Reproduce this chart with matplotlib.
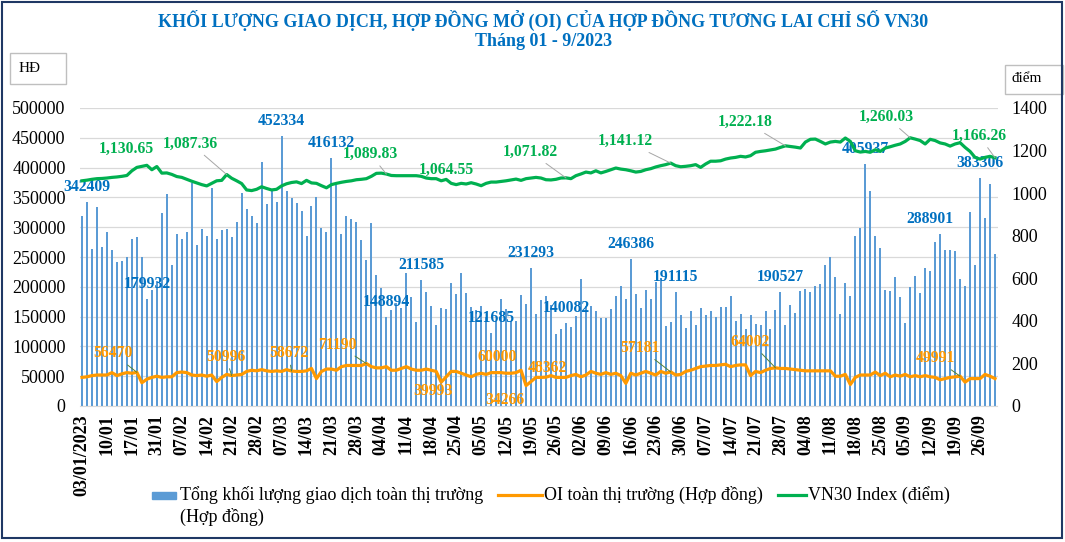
import numpy as np
import matplotlib
matplotlib.use('Agg')
import matplotlib.pyplot as plt
from matplotlib.patches import Rectangle
from matplotlib.lines import Line2D

plt.rcParams['font.family'] = ['Liberation Serif', 'DejaVu Serif']

# every 5th trading session gets a label
tick_labels = ['03/01/2023', '10/01', '17/01', '31/01', '07/02', '14/02', '21/02', '28/02',
               '07/03', '14/03', '21/03', '28/03', '04/04', '11/04', '18/04', '25/04',
               '05/05', '12/05', '19/05', '26/05', '02/06', '09/06', '16/06', '23/06',
               '30/06', '07/07', '14/07', '21/07', '28/07', '04/08', '11/08', '18/08',
               '25/08', '05/09', '12/09', '19/09', '26/09']

# Tong khoi luong giao dich (hop dong)
volume = [319000, 342409, 264000, 334000, 267000, 292000, 262000, 242000, 244000, 250000,
          281000, 284000, 250000, 179932, 195000, 210000, 323000, 355000, 237000, 288000,
          281000, 292000, 374000, 270000, 297000, 286000, 366000, 281000, 296000, 297000,
          284000, 309000, 358000, 331000, 318000, 307000, 409000, 339000, 361000, 343000,
          452334, 361000, 349000, 341000, 328000, 286000, 336000, 351000, 299000, 292000,
          416132, 370000, 289000, 319000, 314000, 309000, 279000, 245000, 307000, 220000,
          198000, 148894, 161000, 173000, 165000, 223000, 183000, 141000, 211585, 192000,
          168000, 136000, 165000, 163000, 207000, 188000, 223000, 190000, 166000, 161000,
          168000, 150000, 121685, 142000, 180000, 163000, 143000, 143000, 186000, 171000,
          231293, 155000, 178000, 185000, 170000, 120000, 129000, 140082, 133000, 151000,
          213000, 168000, 168000, 160000, 148000, 148000, 163000, 185000, 202000, 180000,
          246386, 188000, 165000, 195000, 180000, 208000, 215000, 134000, 141000, 191115,
          153000, 131000, 160000, 136000, 165000, 153000, 160000, 150000, 166000, 166000,
          185000, 143000, 155000, 129000, 153000, 138000, 136000, 160000, 129000, 161000,
          190527, 136000, 170000, 156000, 193000, 197000, 192000, 202000, 205000, 237000,
          250000, 217000, 155000, 207000, 185000, 286000, 299000, 405937, 360000, 286000,
          265000, 195000, 193000, 217000, 183000, 139000, 200000, 218000, 190000, 232000,
          227000, 276000, 288901, 262000, 262000, 260000, 213000, 202000, 326000, 237000,
          383306, 316000, 373000, 255000]

# OI toan thi truong (hop dong)
oi = [48000, 49000, 51000, 52000, 52000, 52000, 56000, 51000, 54000, 56000,
      55000, 56470, 39000, 45000, 48000, 50000, 48000, 49000, 49000, 56000,
      57000, 56000, 52000, 51000, 52000, 50000, 52000, 41000, 48000, 53000,
      50996, 52000, 53000, 58000, 60000, 59000, 61000, 59000, 58000, 59000,
      58000, 61000, 58672, 58000, 58000, 59000, 63000, 46000, 58000, 62000,
      62000, 60000, 66000, 68000, 68000, 68000, 68000, 71190, 66000, 64000,
      64000, 66000, 60000, 60000, 63000, 66000, 62000, 60000, 60000, 62000,
      60000, 58000, 39993, 49000, 58000, 58000, 55000, 52000, 49000, 53000,
      55000, 53000, 56000, 56000, 56000, 55000, 55000, 56000, 60000, 34266,
      41000, 48000, 48000, 48362, 51000, 48000, 48000, 48000, 51000, 53000,
      49000, 52000, 58000, 55000, 53000, 56000, 53000, 55000, 51000, 38000,
      55000, 52000, 55000, 58000, 55000, 52000, 58000, 55000, 57181, 52000,
      53000, 58000, 60000, 63000, 66000, 67000, 68000, 68000, 69000, 70000,
      66000, 68000, 69000, 69000, 51000, 58000, 56000, 60000, 63000, 64002,
      63000, 63000, 62000, 61000, 60000, 59000, 59000, 59000, 59000, 59000,
      59000, 50000, 50000, 53000, 36000, 48000, 52000, 52000, 52000, 57000,
      51000, 55000, 49000, 52000, 50000, 53000, 49000, 51000, 49000, 51000,
      49000, 48000, 44000, 46000, 48000, 49000, 49991, 40000, 46000, 46000,
      46000, 53000, 50000, 46000]

# VN30 Index (diem)
vn30 = [1058, 1061, 1065, 1068, 1069, 1071, 1074, 1076, 1079, 1083,
        1105, 1121, 1126, 1130.65, 1110, 1125, 1094, 1095, 1088, 1078,
        1074, 1065, 1056, 1048, 1040, 1034, 1046, 1058, 1060, 1087.36,
        1070, 1058, 1045, 1015, 1012, 1018, 1030, 1022, 1015, 1018,
        1034, 1044, 1050, 1053, 1045, 1060, 1048, 1046, 1035, 1025,
        1040, 1046, 1051, 1055, 1058, 1063, 1065, 1068, 1079, 1093,
        1094, 1089.83, 1083, 1082, 1082, 1082, 1082, 1082, 1079, 1071,
        1068, 1068, 1058, 1064.55, 1046, 1040, 1046, 1043, 1049, 1043,
        1035, 1046, 1052, 1052, 1055, 1058, 1062, 1066, 1060, 1068,
        1071, 1074, 1071, 1063, 1062, 1065, 1071, 1071.82, 1068, 1082,
        1090, 1099, 1095, 1105, 1095, 1102, 1110, 1118, 1113, 1110,
        1105, 1099, 1102, 1110, 1115, 1123, 1129, 1134, 1141.12, 1129,
        1124, 1126, 1129, 1134, 1121, 1137, 1150, 1150, 1152, 1160,
        1165, 1168, 1173, 1170, 1176, 1192, 1196, 1199, 1203, 1207,
        1215, 1222.18, 1219, 1216, 1212, 1240, 1253, 1254, 1243, 1231,
        1240, 1243, 1240, 1259, 1243, 1199, 1193, 1196, 1192, 1204,
        1196, 1212, 1218, 1225, 1231, 1243, 1260.03, 1254, 1247, 1231,
        1253, 1247, 1236, 1231, 1221, 1231, 1237, 1215, 1196, 1168,
        1160, 1168, 1173, 1166.26]

# sessions that carry a data label
vol_labelled = [1, 13, 40, 50, 61, 68, 82, 90, 97, 110, 119, 140, 157, 172, 180]
oi_labelled = [11, 30, 42, 57, 72, 88, 89, 93, 118, 139, 176]
vn30_labelled = [13, 29, 61, 73, 97, 118, 141, 166, 183]

BLUE = '#5B9BD5'
BLUE_TXT = '#0070C0'
ORANGE = '#FF9900'
GREEN = '#00B050'
W, H = 1065, 542


def fx(px):
    return px / W


def fy(py):
    return (H - py) / H


fig = plt.figure(figsize=(W / 100, H / 100), dpi=100)
ax = fig.add_axes([fx(79.5), fy(406), 918 / W, 298 / H])

x = np.arange(len(volume))
ax.bar(x, volume, width=0.4, color=BLUE, zorder=2)
ax.plot(x, oi, color=ORANGE, lw=2.3, zorder=3, solid_joinstyle='round')
ax.set_xlim(-0.5, len(volume) - 0.5)
ax.set_ylim(0, 500000)
ax.set_yticks(range(0, 500001, 50000))
ax.yaxis.grid(True, color='#D9D9D9', lw=0.9, zorder=0)
ax.set_axisbelow(True)
ax.set_xticks(range(0, len(volume), 5))
ax.set_xticklabels(tick_labels, rotation=90, fontsize=13, fontweight='bold')
ax.tick_params(axis='x', length=0, pad=6)
ax.tick_params(axis='y', length=0, pad=10, labelsize=13)
for s in ['top', 'left', 'right']:
    ax.spines[s].set_visible(False)
ax.spines['bottom'].set_color('#D9D9D9')

ax2 = ax.twinx()
ax2.plot(x, vn30, color=GREEN, lw=2.3, solid_joinstyle='round')
ax2.set_ylim(0, 1400)
ax2.set_yticks(range(0, 1401, 200))
ax2.tick_params(axis='y', length=0, pad=10, labelsize=13)
for s in ax2.spines.values():
    s.set_visible(False)

lab = dict(fontsize=11.3, fontweight='bold', ha='center', va='center',
           textcoords='offset pixels')
lead = dict(arrowstyle='-', color='#A6A6A6', lw=0.7, shrinkA=1, shrinkB=0)
lead_g = dict(arrowstyle='-', color='#548235', lw=0.7, shrinkA=1, shrinkB=0)

vol_shift = {172: -10}
for i in vol_labelled:
    ax.annotate(str(volume[i]), (i, volume[i]), xytext=(vol_shift.get(i, 0), 15),
                color=BLUE_TXT, **lab)

oi_off = {11: (-24, 19), 30: (-6, 19), 42: (-3, 18), 57: (-29, 19), 72: (-8, -9),
          88: (-24, 13), 89: (-21, -14), 93: (1, 9), 118: (-31, 24), 139: (-25, 26),
          176: (-25, 18)}
oi_lead = [11, 30, 42, 57, 118, 139, 176]
for i in oi_labelled:
    ax.annotate(str(oi[i]), (i, oi[i]), xytext=oi_off[i], color=ORANGE,
                arrowprops=lead_g if i in oi_lead else None, zorder=4, **lab)

vn_off = {13: (-20, 16), 29: (-36, 31), 61: (-16, 20), 73: (0, 10), 97: (-36, 26),
          118: (-45, 22), 141: (-40, 24), 166: (-24, 21), 183: (-16, 22)}
vn_lead = [29, 61, 97, 118, 141, 166, 183]
for i in vn30_labelled:
    ax2.annotate(f'{vn30[i]:,.2f}', (i, vn30[i]), xytext=vn_off[i], color=GREEN,
                 arrowprops=lead if i in vn_lead else None, **lab)

# title
fig.text(0.51, fy(20), 'KHỐI LƯỢNG GIAO DỊCH, HỢP ĐỒNG MỞ (OI) CỦA HỢP ĐỒNG TƯƠNG LAI CHỈ SỐ VN30',
         ha='center', va='center', fontsize=13, fontweight='bold', color=BLUE_TXT)
fig.text(0.51, fy(42), 'Tháng 01 - 9/2023', ha='center', va='center', fontsize=13,
         fontweight='bold', color=BLUE_TXT)

# unit boxes
fig.patches.append(Rectangle((fx(10), fy(84)), 56 / W, 31 / H, transform=fig.transFigure,
                             fill=False, edgecolor='#BFBFBF', lw=1))
fig.text(fx(19), fy(68), 'HĐ', ha='left', va='center', fontsize=11)
fig.patches.append(Rectangle((fx(1005), fy(94)), 58 / W, 29 / H, transform=fig.transFigure,
                             fill=False, edgecolor='#BFBFBF', lw=1))
fig.text(fx(1011), fy(79), 'điểm', ha='left', va='center', fontsize=11)

# legend drawn by hand so the first label wraps like the original
fig.patches.append(Rectangle((fx(152), fy(499)), 24 / W, 7 / H, transform=fig.transFigure,
                             color=BLUE))
fig.text(fx(180), fy(495), 'Tổng khối lượng giao dịch toàn thị trường', ha='left',
         va='center', fontsize=13)
fig.text(fx(180), fy(517), '(Hợp đồng)', ha='left', va='center', fontsize=13)
fig.lines.append(Line2D([fx(498), fx(542)], [fy(495), fy(495)], transform=fig.transFigure,
                        color=ORANGE, lw=2.3))
fig.text(fx(544), fy(495), 'OI toàn thị trường (Hợp đồng)', ha='left', va='center',
         fontsize=13)
fig.lines.append(Line2D([fx(778), fx(806)], [fy(495), fy(495)], transform=fig.transFigure,
                        color=GREEN, lw=2.3))
fig.text(fx(808), fy(495), 'VN30 Index (điểm)', ha='left', va='center', fontsize=13)

# outer frame
fig.patches.append(Rectangle((fx(1.5), fy(538)), 1060 / W, 536 / H, transform=fig.transFigure,
                             fill=False, edgecolor='#1F3864', lw=1.5))

fig.savefig('out.png', dpi=100)
